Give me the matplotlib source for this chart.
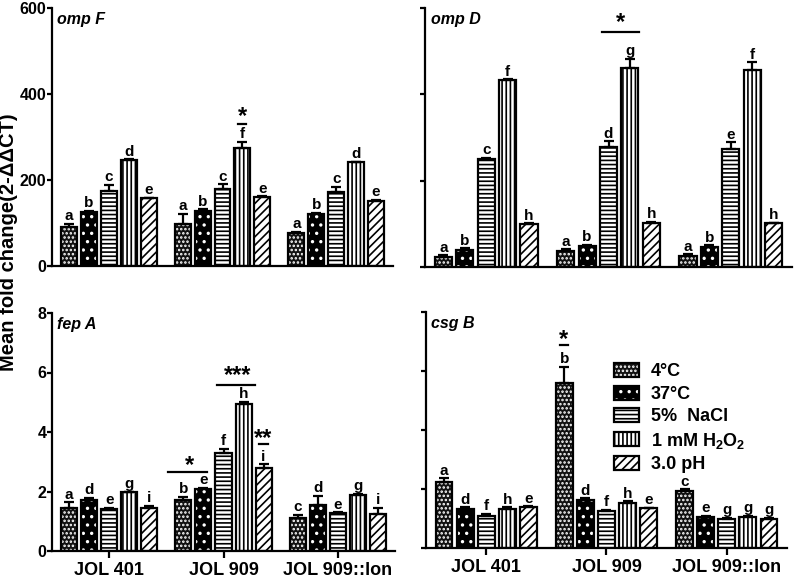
import matplotlib
matplotlib.use("Agg")
import matplotlib.pyplot as plt
from matplotlib.legend_handler import HandlerTuple

plt.rcParams['font.family'] = ['Liberation Sans', 'DejaVu Sans']
plt.rcParams['font.weight'] = 'bold'
plt.rcParams['mathtext.fontset'] = 'custom'
plt.rcParams['mathtext.rm'] = 'Liberation Sans:bold'
plt.rcParams['mathtext.bf'] = 'Liberation Sans:bold'
plt.rcParams['mathtext.it'] = 'Liberation Sans:bold:italic'
plt.rcParams['hatch.linewidth'] = 1.2

# ---------------- data ----------------
groups = ["JOL 401", "JOL 909", "JOL 909::lon"]
conditions = ["4°C", "37°C", "5%  NaCl", r"1 mM H$_2$O$_2$", "3.0 pH"]

# each row: one condition, values for the three strains
ompF_mean = [[90, 97, 76], [125, 129, 121], [175, 178, 171], [246, 274, 241], [157, 160, 152]]
ompF_err = [[8, 25, 3], [3, 3, 3], [13, 12, 13], [2, 15, 2], [2, 2, 2]]
ompF_letters = [["a", "a", "a"], ["b", "b", "b"], ["c", "c", "c"], ["d", "f", "d"], ["e", "e", "e"]]

ompD_mean = [[24, 38, 26], [40, 49, 47], [251, 277, 274], [433, 462, 456], [99, 103, 101]]
ompD_err = [[3, 3, 3], [3, 3, 3], [2, 14, 15], [2, 20, 18], [2, 2, 2]]
ompD_letters = [["a", "a", "a"], ["b", "b", "b"], ["c", "d", "e"], ["f", "g", "f"], ["h", "h", "h"]]

fepA_mean = [[1.44, 1.70, 1.11], [1.70, 2.08, 1.56], [1.40, 3.31, 1.27], [1.98, 4.94, 1.89], [1.44, 2.78, 1.26]]
fepA_err = [[0.20, 0.12, 0.11], [0.08, 0.05, 0.30], [0.05, 0.13, 0.03], [0.02, 0.08, 0.03], [0.07, 0.13, 0.20]]
fepA_letters = [["a", "b", "c"], ["d", "e", "d"], ["e", "f", "e"], ["g", "h", "g"], ["i", "i", "i"]]

csgB_mean = [[2.23, 5.61, 1.92], [1.33, 1.63, 1.05], [1.10, 1.27, 1.00], [1.33, 1.54, 1.05], [1.38, 1.34, 1.00]]
csgB_err = [[0.13, 0.53, 0.07], [0.05, 0.05, 0.04], [0.05, 0.03, 0.03], [0.05, 0.04, 0.03], [0.03, 0.03, 0.02]]
csgB_letters = [["a", "b", "c"], ["d", "d", "e"], ["f", "f", "g"], ["h", "h", "g"], ["e", "e", "g"]]

# bar styles (fill, hatch colour, hatch)
styles = [("#111111", "white", "...."),
          ("black", "white", ".."),
          ("white", "black", "----"),
          ("white", "black", "||||"),
          ("white", "black", "////")]

STEP = 0.175
WIDTH = 0.14
W, H = 800, 578

fig = plt.figure(figsize=(8, 5.78), dpi=100)


def px_axes(x0, x1, ytop, ybot):
    return fig.add_axes([x0 / W, 1 - ybot / H, (x1 - x0) / W, (ybot - ytop) / H])


ax_tl = px_axes(52, 393, 8, 266)
ax_tr = px_axes(425, 792, 8, 267)
ax_bl = px_axes(52, 395, 313, 551)
ax_br = px_axes(426, 787, 312, 548)

legend_handles = []


def draw_panel(ax, means, errs, letters, ymax, yticks, title, show_ylabels, show_x, make_legend=False):
    xs_g = list(range(len(groups)))
    for j, (m, e, lt) in enumerate(zip(means, errs, letters)):
        fc, hc, hatch = styles[j]
        xs = [g + (j - 2) * STEP for g in xs_g]
        b1 = ax.bar(xs, m, width=WIDTH, facecolor=fc, edgecolor=hc, hatch=hatch, linewidth=0, zorder=2)
        b2 = ax.bar(xs, m, width=WIDTH, facecolor='none', edgecolor='black', linewidth=1.6, zorder=3)
        ax.errorbar(xs, m, yerr=[[0] * len(m), e], fmt='none', ecolor='black',
                    elinewidth=1.6, capsize=3.5, capthick=1.6, zorder=4)
        for x, v, er, t in zip(xs, m, e, lt):
            ax.annotate(t, (x, v + er), xytext=(0, 0.5), textcoords='offset points',
                        ha='center', va='bottom', fontsize=11, fontweight='bold', zorder=5)
        if make_legend:
            legend_handles.append((b1.patches[0], b2.patches[0]))
    ax.set_xlim(-0.5, 2.5)
    ax.set_ylim(0, ymax)
    ax.set_yticks(yticks)
    for s in ['top', 'right']:
        ax.spines[s].set_visible(False)
    for s in ['left', 'bottom']:
        ax.spines[s].set_linewidth(1.6)
    ax.tick_params(axis='y', direction='out', length=3.5, width=1.6, labelsize=11.5,
                   labelleft=show_ylabels, pad=0.5)
    if show_x:
        ax.set_xticks(xs_g)
        ax.set_xticklabels(groups, fontsize=13, fontweight='bold')
        ax.tick_params(axis='x', direction='out', length=5, width=1.6, pad=3)
    else:
        ax.set_xticks([])
    ax.text(0.015, 0.985, title, transform=ax.transAxes, ha='left', va='top',
            fontsize=11.5, fontweight='bold', fontstyle='italic')


draw_panel(ax_tl, ompF_mean, ompF_err, ompF_letters, 600, [0, 200, 400, 600], "omp F", True, False)
draw_panel(ax_tr, ompD_mean, ompD_err, ompD_letters, 600, [0, 200, 400, 600], "omp D", False, False)
draw_panel(ax_bl, fepA_mean, fepA_err, fepA_letters, 8, [0, 2, 4, 6, 8], "fep A", True, True)
draw_panel(ax_br, csgB_mean, csgB_err, csgB_letters, 8, [0, 2, 4, 6, 8], "csg B", False, True, make_legend=True)

# significance markers
kw_star = dict(ha='center', va='center', fontsize=17, fontweight='bold')
# omp F
ax_tl.text(1.175, 348, '*', **kw_star)
ax_tl.plot([1.14, 1.21], [330, 330], color='black', lw=1.6)
# omp D
ax_tr.plot([0.943, 1.25], [544, 544], color='black', lw=1.6)
ax_tr.text(1.1, 566, '*', **kw_star)
# fep A
ax_bl.plot([0.513, 0.855], [2.67, 2.67], color='black', lw=1.6)
ax_bl.text(0.70, 2.87, '*', **kw_star)
ax_bl.plot([0.943, 1.276], [5.59, 5.59], color='black', lw=1.6)
ax_bl.text(1.12, 5.9, '***', **kw_star)
ax_bl.plot([1.31, 1.39], [3.58, 3.58], color='black', lw=1.6)
ax_bl.text(1.35, 3.78, '**', **kw_star)
# csg B
ax_br.plot([0.61, 0.68], [6.87, 6.87], color='black', lw=1.6)
ax_br.text(0.645, 7.08, '*', **kw_star)

# legend
leg = fig.legend(legend_handles, conditions, loc='upper left',
                 bbox_to_anchor=(614 / W, 1 - 363 / H), frameon=False,
                 handler_map={tuple: HandlerTuple(ndivide=1, pad=0)},
                 handlelength=1.4, handleheight=0.85, handletextpad=0.65,
                 labelspacing=0.28, borderpad=0, borderaxespad=0,
                 prop={'size': 13, 'weight': 'bold'})

fig.text(9 / W, 1 - 242 / H, "Mean fold change(2-ΔΔCT)", rotation=90,
         ha='center', va='center', fontsize=14.5, fontweight='bold')

fig.savefig("out.png", dpi=100)
